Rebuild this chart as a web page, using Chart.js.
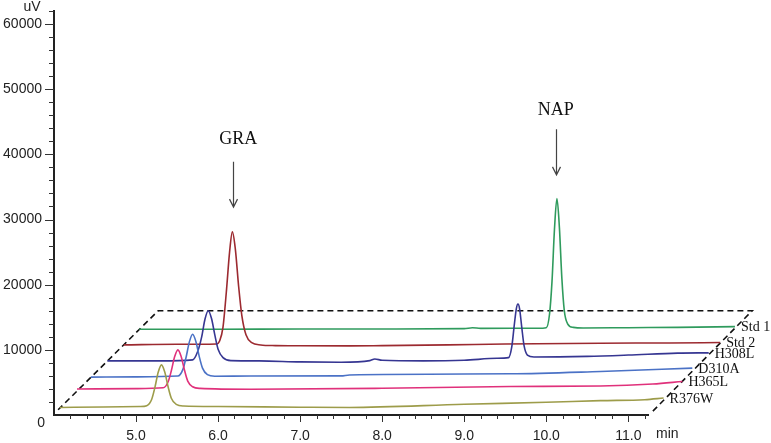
<!DOCTYPE html>
<html>
<head>
<meta charset="utf-8">
<script src="https://cdn.jsdelivr.net/npm/chart.js@4.4.1/dist/chart.umd.min.js"></script>
<style>
  html, body { margin: 0; padding: 0; background: #fff; }
</style>
</head>
<body>
<canvas id="chart" width="771" height="443"></canvas>
<script>
// Chromatograms, stacked with the usual 3D offset (time in min, signal in uV)
var traceNames = ['Std 1', 'Std 2', 'H308L', 'D310A', 'H365L', 'R376W'];
var traceColors = ['#2f9b5d', '#9c2a30', '#363692', '#4b72c6', '#e0317b', '#9d9c4a'];

var std1Time = [5.04, 6.0, 7.0, 8.0, 9.0, 9.1, 9.2, 9.9, 10.00, 10.04, 10.07, 10.10, 10.13, 10.16, 10.19, 10.22, 10.26, 10.33, 10.45, 11.0, 11.6, 12.3];
var std1Signal = [13170, 13170, 13200, 13200, 13250, 13400, 13300, 13320, 13400, 15500, 20500, 28500, 33220, 28800, 21000, 16000, 14000, 13450, 13350, 13400, 13450, 13560];

var std2Time = [4.85, 5.5, 5.98, 6.02, 6.06, 6.10, 6.14, 6.174, 6.21, 6.25, 6.29, 6.34, 6.41, 6.52, 6.7, 7.0, 7.6, 8.0, 8.8, 9.5, 10.66, 11.5, 12.12];
var std2Signal = [10760, 10850, 10900, 11400, 13500, 18800, 25000, 28110, 25500, 19800, 15200, 12300, 11100, 10750, 10650, 10620, 10610, 10650, 10760, 10900, 11020, 11060, 11120];

var h308lTime = [4.65, 5.3, 5.69, 5.75, 5.80, 5.84, 5.88, 5.92, 5.96, 6.00, 6.06, 6.16, 6.5, 7.0, 7.5, 7.85, 7.91, 8.0, 8.5, 9.0, 9.4, 9.54, 9.58, 9.61, 9.635, 9.655, 9.675, 9.70, 9.73, 9.77, 9.85, 10.5, 11.0, 11.6, 11.98];
var h308lSignal = [8310, 8310, 8460, 9700, 12000, 14700, 16010, 14800, 12300, 10100, 8800, 8350, 8300, 8150, 8100, 8350, 8600, 8400, 8300, 8400, 8700, 8800, 10500, 13800, 16300, 17040, 16300, 13600, 10600, 9200, 8900, 9000, 9200, 9500, 9540];

var d310aTime = [4.45, 5.0, 5.51, 5.57, 5.61, 5.65, 5.69, 5.73, 5.77, 5.81, 5.87, 5.96, 6.4, 7.5, 7.6, 9.56, 10.66, 11.78];
var d310aSignal = [5820, 5850, 5980, 6960, 8860, 11220, 12400, 11250, 9000, 7200, 6200, 5950, 5990, 6000, 6150, 6320, 6680, 7200];

var h365lTime = [4.28, 5.0, 5.33, 5.39, 5.43, 5.47, 5.51, 5.55, 5.59, 5.63, 5.69, 5.78, 6.4, 8.0, 9.56, 10.66, 11.3, 11.66];
var h365lSignal = [3980, 4050, 4170, 5060, 6790, 8930, 10000, 8980, 6900, 5200, 4330, 4080, 3950, 4100, 4380, 4450, 4750, 5140];

var r376wTime = [4.07, 4.6, 5.05, 5.13, 5.19, 5.23, 5.27, 5.31, 5.35, 5.39, 5.43, 5.49, 5.58, 6.0, 7.0, 7.6, 9.0, 10.0, 10.66, 11.2, 11.43];
var r376wSignal = [1150, 1230, 1300, 1430, 2390, 4240, 6550, 7700, 6600, 4370, 2580, 1620, 1380, 1300, 1200, 1160, 1650, 1950, 2200, 2350, 2600];

var traceTimes = [std1Time, std2Time, h308lTime, d310aTime, h365lTime, r376wTime];
var traceSignals = [std1Signal, std2Signal, h308lSignal, d310aSignal, h365lSignal, r376wSignal];

// dashed perspective frame (corners in min / uV)
var frameTime = [4.05, 5.27, 12.51, 11.28];
var frameLevel = [800, 16000, 16000, 350];

// axis ranges and labelled ticks
var timeMin = 4.0, timeMax = 11.24, timeStep = 0.2;
var xLabelValues = [5, 6, 7, 8, 9, 10, 11];
var signalMax = 62000, signalStep = 2000;
var yLabelValues = [10000, 20000, 30000, 40000, 50000, 60000];

// peak markers: label, arrow time, text time, text / arrow levels
var markLabels = ['GRA', 'NAP'];
var markTimes = [6.186, 10.115];
var markTextTimes = [6.245, 10.115];
var markTextLevels = [42300, 46800];
var markArrowTops = [38850, 43850];
var markArrowTips = [31900, 36850];

var serif = '"Liberation Serif", "Times New Roman", serif';
var sans = '"Liberation Sans", Arial, sans-serif';

function toPoints(times, values) {
    return times.map(function(t, k) { return { x: t, y: values[k] }; });
}

var datasets = traceNames.map(function(name, i) {
    return {
        label: name,
        data: toPoints(traceTimes[i], traceSignals[i]),
        borderColor: traceColors[i],
        borderWidth: 1.6,
        pointRadius: 0,
        cubicInterpolationMode: 'monotone',
        clip: false,
        order: traceNames.length - i
    };
});

datasets.push({
    label: 'frame',
    data: toPoints(frameTime, frameLevel),
    borderColor: '#111',
    borderWidth: 1.6,
    borderDash: [6, 4],
    pointRadius: 0,
    tension: 0,
    clip: false,
    order: 10
});

var overlay = {
    id: 'overlay',
    afterDraw: function(chart) {
        var ctx = chart.ctx;
        var x = chart.scales.x, y = chart.scales.y;
        var axisY = y.getPixelForValue(0);
        var axisX = x.getPixelForValue(timeMin);

        ctx.save();
        ctx.strokeStyle = '#333';
        ctx.lineWidth = 1;

        // x ticks: long on whole minutes
        x.ticks.forEach(function(tick) {
            var px = Math.round(x.getPixelForValue(tick.value)) + 0.5;
            var whole = Math.abs(tick.value - Math.round(tick.value)) < 1e-6;
            if (tick.value <= timeMin + 1e-6) return;
            ctx.beginPath();
            ctx.moveTo(px, axisY);
            ctx.lineTo(px, axisY + (whole ? 7 : 4));
            ctx.stroke();
        });

        // y ticks: long every 10000
        y.ticks.forEach(function(tick) {
            var py = Math.round(y.getPixelForValue(tick.value)) + 0.5;
            var major = tick.value % 10000 === 0;
            if (tick.value === 0) return;
            ctx.beginPath();
            ctx.moveTo(axisX, py);
            ctx.lineTo(axisX - (major ? 9 : 5), py);
            ctx.stroke();
        });

        // axis words and the zero
        ctx.fillStyle = '#222';
        ctx.font = '14px ' + sans;
        ctx.textBaseline = 'middle';
        ctx.textAlign = 'center';
        ctx.fillText('uV', axisX - 22, y.top - 4);
        ctx.textAlign = 'left';
        ctx.fillText('min', x.right + 8, axisY + 19);
        ctx.textAlign = 'right';
        ctx.fillText('0', axisX - 9, axisY + 8);

        // trace names at the end of each line
        ctx.font = '14px ' + serif;
        ctx.textAlign = 'left';
        ctx.fillStyle = '#111';
        traceNames.forEach(function(name, i) {
            var pts = chart.getDatasetMeta(i).data;
            var last = pts[pts.length - 1];
            ctx.fillText(name, last.x + 6, last.y + 1);
        });

        // GRA / NAP arrows
        ctx.font = '18px ' + serif;
        ctx.textAlign = 'center';
        ctx.strokeStyle = '#444';
        ctx.lineWidth = 1.2;
        markLabels.forEach(function(label, i) {
            var ax = Math.round(x.getPixelForValue(markTimes[i])) + 0.5;
            var top = y.getPixelForValue(markArrowTops[i]);
            var tip = y.getPixelForValue(markArrowTips[i]);
            ctx.fillText(label, x.getPixelForValue(markTextTimes[i]), y.getPixelForValue(markTextLevels[i]));
            ctx.beginPath();
            ctx.moveTo(ax, top);
            ctx.lineTo(ax, tip);
            ctx.moveTo(ax - 4, tip - 8);
            ctx.lineTo(ax, tip);
            ctx.lineTo(ax + 4, tip - 8);
            ctx.stroke();
        });
        ctx.restore();
    }
};

new Chart(document.getElementById('chart'), {
    type: 'line',
    data: { datasets: datasets },
    options: {
        responsive: false,
        animation: false,
        events: [],
        layout: { padding: { top: 11, right: 123, left: 0, bottom: 0 } },
        plugins: {
            legend: { display: false },
            tooltip: { enabled: false }
        },
        scales: {
            x: {
                type: 'linear',
                // range is set after the ticks are built so the traces are not cut at the axis end
                afterBuildTicks: function(scale) {
                    var ticks = [];
                    for (var k = 0; timeMin + k * timeStep <= timeMax + 1e-6; k++) {
                        ticks.push({ value: Math.round((timeMin + k * timeStep) * 10) / 10 });
                    }
                    scale.ticks = ticks;
                    scale.min = timeMin;
                    scale.max = timeMax;
                },
                afterFit: function(scale) {
                    scale.height = 28;
                    scale.paddingLeft = 0;
                    scale.paddingRight = 0;
                },
                grid: { display: true, drawOnChartArea: false, drawTicks: false },
                border: { display: true, color: '#222', width: 2 },
                ticks: {
                    autoSkip: false,
                    maxRotation: 0,
                    padding: 13,
                    color: '#222',
                    font: { family: sans, size: 14 },
                    callback: function(value) {
                        var v = Math.round(value * 10) / 10;
                        return xLabelValues.indexOf(v) >= 0 ? v.toFixed(1) : '';
                    }
                }
            },
            y: {
                type: 'linear',
                min: 0,
                max: signalMax,
                afterFit: function(scale) {
                    scale.width = 54;
                    scale.paddingTop = 0;
                    scale.paddingBottom = 0;
                },
                grid: { display: true, drawOnChartArea: false, drawTicks: false },
                border: { display: true, color: '#222', width: 2 },
                ticks: {
                    stepSize: signalStep,
                    autoSkip: false,
                    padding: 12,
                    color: '#222',
                    font: { family: sans, size: 14 },
                    callback: function(value) {
                        return yLabelValues.indexOf(value) >= 0 ? String(value) : '';
                    }
                }
            }
        }
    },
    plugins: [overlay]
});
</script>
</body>
</html>
